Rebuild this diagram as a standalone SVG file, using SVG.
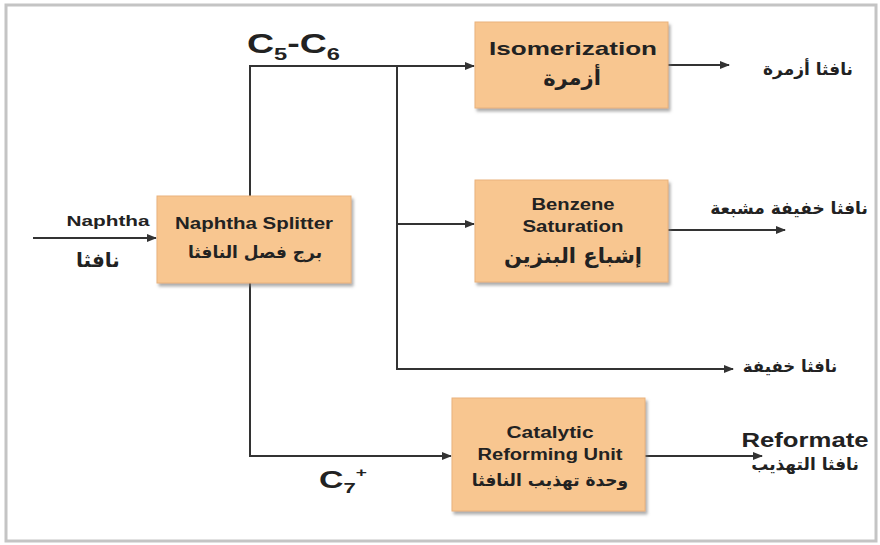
<svg xmlns="http://www.w3.org/2000/svg" width="880" height="545" viewBox="0 0 880 545">
<defs>
<style>
.box{fill:#F8C690;stroke:#E9B27C;stroke-width:1;filter:url(#sh)}
.ln{fill:none;stroke:#333;stroke-width:2}
.en{font-family:"Liberation Sans",Arial,sans-serif;font-weight:bold;fill:#222;text-anchor:middle}
.ar{font-family:"DejaVu Sans",sans-serif;font-weight:bold;fill:#222;text-anchor:middle}
</style>
<filter id="sh" x="-10%" y="-10%" width="125%" height="130%">
<feDropShadow dx="2" dy="3" stdDeviation="1.5" flood-color="#777" flood-opacity="0.6"/>
</filter>
<marker id="ah" markerUnits="userSpaceOnUse" markerWidth="10" markerHeight="10" refX="9" refY="5" orient="auto">
<path d="M0,1 L10,5 L0,9 z" fill="#333"/>
</marker>
</defs>
<rect x="6" y="5" width="870" height="536" fill="#fff" stroke="#C4C4C4" stroke-width="3"/>

<g id="connectors">
<path class="ln" d="M33,238 H156" marker-end="url(#ah)"/>
<path class="ln" d="M250,196 V66 H474" marker-end="url(#ah)"/>
<path class="ln" d="M397,66 V369 H733" marker-end="url(#ah)"/>
<path class="ln" d="M397,224 H474" marker-end="url(#ah)"/>
<path class="ln" d="M668,65 H729" marker-end="url(#ah)"/>
<path class="ln" d="M668,230 H785" marker-end="url(#ah)"/>
<path class="ln" d="M250,283 V456 H451" marker-end="url(#ah)"/>
<path class="ln" d="M645,456 H762" marker-end="url(#ah)"/>
</g>

<g id="labels">
<text class="en" x="108" y="226" font-size="14" textLength="83" lengthAdjust="spacingAndGlyphs">Naphtha</text>
<text class="ar" x="98" y="267" font-size="20">نافثا</text>
<text x="247" y="53" font-family="Liberation Sans,Arial,sans-serif" font-weight="bold" fill="#222" font-size="27" textLength="93" lengthAdjust="spacingAndGlyphs">C<tspan font-size="17" dy="7">5</tspan><tspan dy="-7">-C</tspan><tspan font-size="17" dy="7">6</tspan></text>
<text x="319" y="488" font-family="Liberation Sans,Arial,sans-serif" font-weight="bold" fill="#222" font-size="23" textLength="48" lengthAdjust="spacingAndGlyphs">C<tspan font-size="15" dy="5">7</tspan><tspan font-size="13" dy="-16">+</tspan></text>
<text class="ar" x="808" y="75" font-size="17">نافثا أزمرة</text>
<text class="ar" x="789" y="214" font-size="17">نافثا خفيفة مشبعة</text>
<text class="ar" x="790" y="372" font-size="16.5">نافثا خفيفة</text>
<text class="en" x="805" y="447" font-size="20" textLength="127" lengthAdjust="spacingAndGlyphs">Reformate</text>
<text class="ar" x="805" y="470" font-size="17">نافثا التهذيب</text>
</g>

<g id="splitter">
<rect class="box" x="157" y="196" width="194" height="87"/>
<text class="en" x="254" y="229" font-size="17" textLength="158" lengthAdjust="spacingAndGlyphs">Naphtha Splitter</text>
<text class="ar" x="255" y="258" font-size="17">برج فصل النافثا</text>
</g>

<g id="isomerization">
<rect class="box" x="475" y="22" width="193" height="86"/>
<text class="en" x="573" y="55" font-size="19" textLength="168" lengthAdjust="spacingAndGlyphs">Isomerization</text>
<text class="ar" x="572" y="85" font-size="21">أزمرة</text>
</g>

<g id="benzene">
<rect class="box" x="475" y="180" width="193" height="102"/>
<text class="en" x="573" y="210" font-size="16" textLength="83" lengthAdjust="spacingAndGlyphs">Benzene</text>
<text class="en" x="573" y="232" font-size="16" textLength="101" lengthAdjust="spacingAndGlyphs">Saturation</text>
<text class="ar" x="573" y="263" font-size="21">إشباع البنزين</text>
</g>

<g id="reforming">
<rect class="box" x="452" y="398" width="193" height="113"/>
<text class="en" x="550" y="438" font-size="16" textLength="87" lengthAdjust="spacingAndGlyphs">Catalytic</text>
<text class="en" x="550" y="460" font-size="16" textLength="145" lengthAdjust="spacingAndGlyphs">Reforming Unit</text>
<text class="ar" x="550" y="486" font-size="17">وحدة تهذيب النافثا</text>
</g>
</svg>
